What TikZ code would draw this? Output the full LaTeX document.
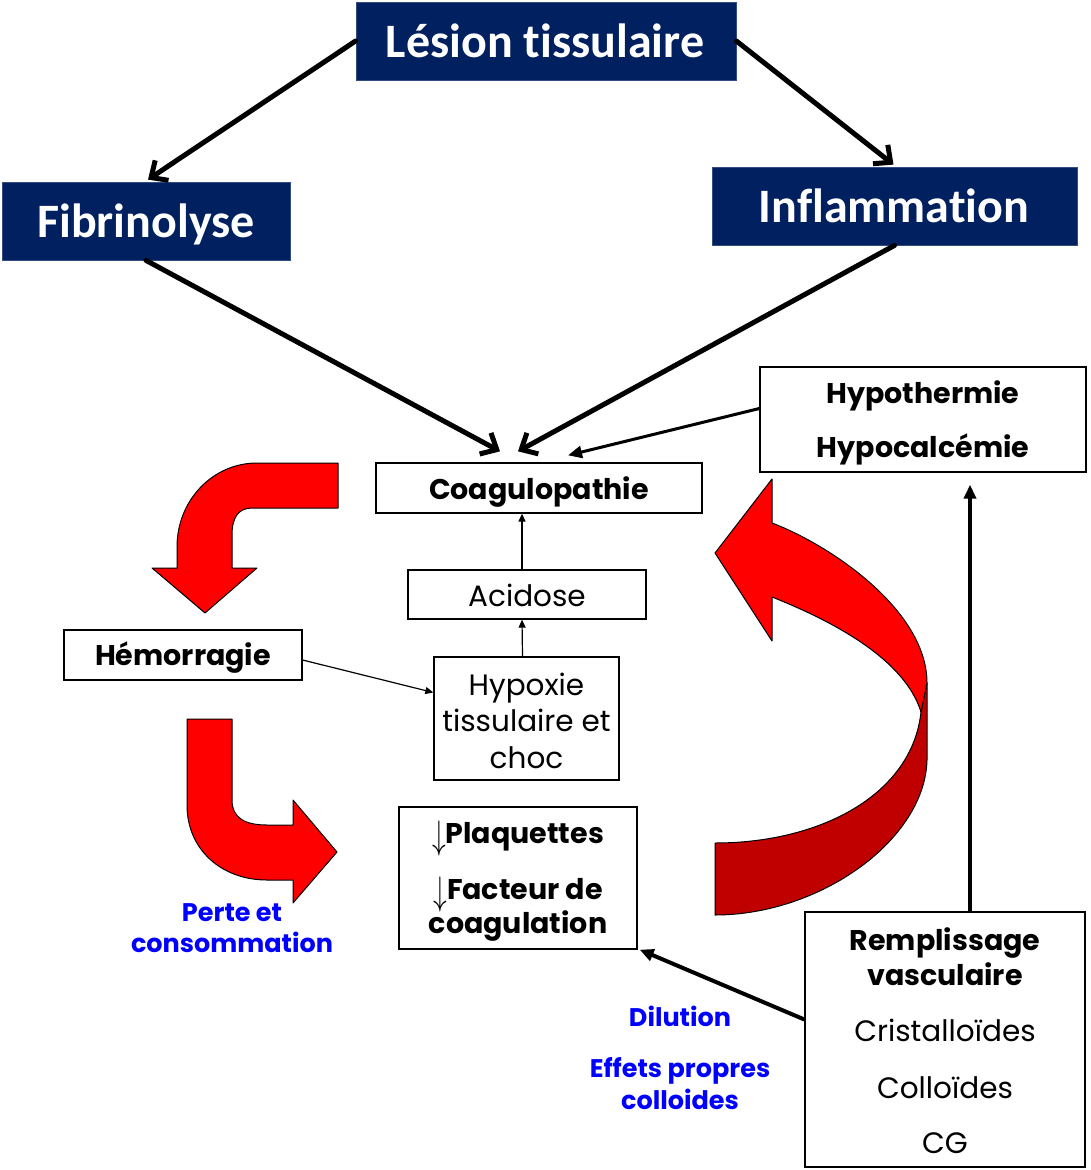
\documentclass[tikz,border=0pt]{standalone}
\usepackage{fontspec}
\setmainfont{Poppins}
\newfontfamily\calibrifont[Ligatures={NoCommon}]{Carlito}
\usetikzlibrary{arrows.meta}
\definecolor{headnavy}{RGB}{0,32,96}
\definecolor{arrowred}{RGB}{255,0,0}
\definecolor{arrowdark}{RGB}{192,0,0}
\definecolor{noteblue}{RGB}{0,0,255}
\newcommand{\dnarrow}{\raisebox{-5pt}{\scalebox{1.1}[1.6]{$\downarrow$}}}
\begin{document}
\begin{tikzpicture}[x=1pt,y=-1pt,
  headbox/.style={fill=headnavy, draw=headnavy!80!white, line width=0.8pt, inner sep=0pt},
  plainbox/.style={draw=black, line width=1.3pt, fill=white, inner sep=0pt},
  headtxt/.style={anchor=base, inner sep=0pt, text=white, font=\calibrifont\bfseries\fontsize{48}{56}\selectfont},
  boldtxt/.style={anchor=base, inner sep=0pt, font=\bfseries\fontsize{28.5}{34}\selectfont},
  regtxt/.style={anchor=base, inner sep=0pt, font=\fontsize{29.5}{35}\selectfont},
  notetxt/.style={anchor=base, inner sep=0pt, text=noteblue, font=\bfseries\fontsize{25.5}{30}\selectfont},
  barbarrow/.style={line width=5pt, line cap=round, -{Straight Barb[length=13pt,width=24pt]}},
  thinarrow/.style={line width=1.2pt, -{Triangle[length=8pt,width=7pt]}},
  medarrow/.style={line width=3pt, -{Triangle[length=14pt,width=12pt]}},
  ribbon/.style={draw=black, line width=1pt, line join=round},
]
\useasboundingbox[fill=white] (0,0) rectangle (1090,1170);

% ---- header boxes ----
\node[headbox, minimum width=380pt, minimum height=78pt] (lesion) at (546,41) {};
\node[headbox, minimum width=288pt, minimum height=78pt] (fibri) at (146,221) {};
\node[headbox, minimum width=365pt, minimum height=78pt] (infl) at (894.5,206) {};
\node[headtxt] (lesiontxt) at (545,57) {Lésion tissulaire};
\node[headtxt] (fibritxt) at (146,237) {Fibrinolyse};
\node[headtxt] (infltxt) at (894,222) {Inflammation};

% ---- white boxes ----
\node[plainbox, minimum width=326pt, minimum height=50pt] (coag) at (539,488) {};
\node[plainbox, minimum width=326pt, minimum height=105pt] (hypo) at (923,419.5) {};
\node[plainbox, minimum width=238pt, minimum height=49pt] (acid) at (527,594.5) {};
\node[plainbox, minimum width=185pt, minimum height=123pt] (hypox) at (526.5,718.5) {};
\node[plainbox, minimum width=238pt, minimum height=50pt] (hemo) at (183,655) {};
\node[plainbox, minimum width=238pt, minimum height=142pt] (plaq) at (518,878) {};
\node[plainbox, minimum width=280pt, minimum height=255pt] (rempl) at (945,1039.5) {};

% ---- box texts ----
\node[boldtxt] (coagtxt) at (539,499) {Coagulopathie};
\node[boldtxt] (hypoa) at (923,403) {Hypothermie};
\node[boldtxt] (hypob) at (923,457) {Hypocalcémie};
\node[regtxt] (acidtxt) at (527,606) {Acidose};
\node[regtxt] (hypoxa) at (526.5,695) {Hypoxie};
\node[regtxt] (hypoxb) at (526.5,731) {tissulaire et};
\node[regtxt] (hypoxc) at (526.5,768) {choc};
\node[boldtxt] (hemotxt) at (183,665) {Hémorragie};
\node[boldtxt] (plaqa) at (518,843) {\dnarrow Plaquettes};
\node[boldtxt] (plaqb) at (518,899) {\dnarrow Facteur de};
\node[boldtxt] (plaqc) at (518,933) {coagulation};
\node[boldtxt] (rempla) at (945,950) {Remplissage};
\node[boldtxt] (remplb) at (945,985) {vasculaire};
\node[regtxt] (remplc) at (945,1041) {Cristalloïdes};
\node[regtxt] (rempld) at (945,1098) {Colloïdes};
\node[regtxt] (remple) at (945,1153) {CG};

% ---- blue notes ----
\node[notetxt] (notea) at (232,921) {Perte et};
\node[notetxt] (noteb) at (232,952) {consommation};
\node[notetxt] (notec) at (680,1026) {Dilution};
\node[notetxt] (noted) at (680,1077) {Effets propres};
\node[notetxt] (notee) at (680,1109) {colloides};

% ---- connectors ----
\draw[barbarrow] (lesion.west) -- ([xshift=2pt,yshift=2pt]fibri.north);
\draw[barbarrow] (lesion.east) -- ([xshift=-1pt,yshift=2pt]infl.north);
\draw[barbarrow] (fibri.south) -- ([xshift=-39pt,yshift=11pt]coag.north);
\draw[barbarrow] (infl.south) -- ([xshift=-21pt,yshift=11pt]coag.north);
\draw[medarrow] ([yshift=11pt]hypo.west) -- ([xshift=29pt,yshift=7pt]coag.north);
\draw[thinarrow] ([xshift=-5pt]acid.north) -- ([xshift=-17pt]coag.south);
\draw[thinarrow] ([xshift=-4pt]hypox.north) -- ([xshift=-5pt]acid.south);
\draw[thinarrow] ([yshift=-5pt]hemo.east) -- ([yshift=26pt]hypox.west);
\draw[medarrow, line width=4pt] ([yshift=20pt]rempl.west) -- ([xshift=2pt]plaq.south east);
\draw[medarrow, line width=4pt] ([xshift=25pt]rempl.north) -- ([xshift=47pt,yshift=-12pt]hypo.south);

% ---- red curved arrows ----
\filldraw[ribbon, fill=arrowred]
  (338,463) -- (257,463) .. controls (213,463) and (177,500) .. (177,547)
  -- (177,568) -- (152,568) -- (205,613) -- (257,568) -- (232,568)
  -- (232,535) .. controls (232,518) and (238,508) .. (252,508) -- (338,508) -- cycle;
\filldraw[ribbon, fill=arrowred]
  (187,719) -- (232,719) -- (232,800) .. controls (232,818) and (245,825) .. (267,825)
  -- (293,825) -- (293,800) -- (337,852) -- (293,903) -- (293,880) -- (267,880)
  .. controls (222,880) and (187,850) .. (187,805) -- cycle;
\filldraw[ribbon, fill=arrowdark]
  (715,843) .. controls (820,843) and (912,795) .. (921,712) -- (927,683)
  -- (927,760) .. controls (925,840) and (820,915) .. (715,915) -- cycle;
\filldraw[ribbon, fill=arrowred]
  (772,479) -- (715,553) -- (772,641) -- (772,597)
  .. controls (835,622) and (905,660) .. (921,712) -- (927,683)
  .. controls (927,610) and (830,545) .. (772,523) -- cycle;
\end{tikzpicture}
\end{document}
